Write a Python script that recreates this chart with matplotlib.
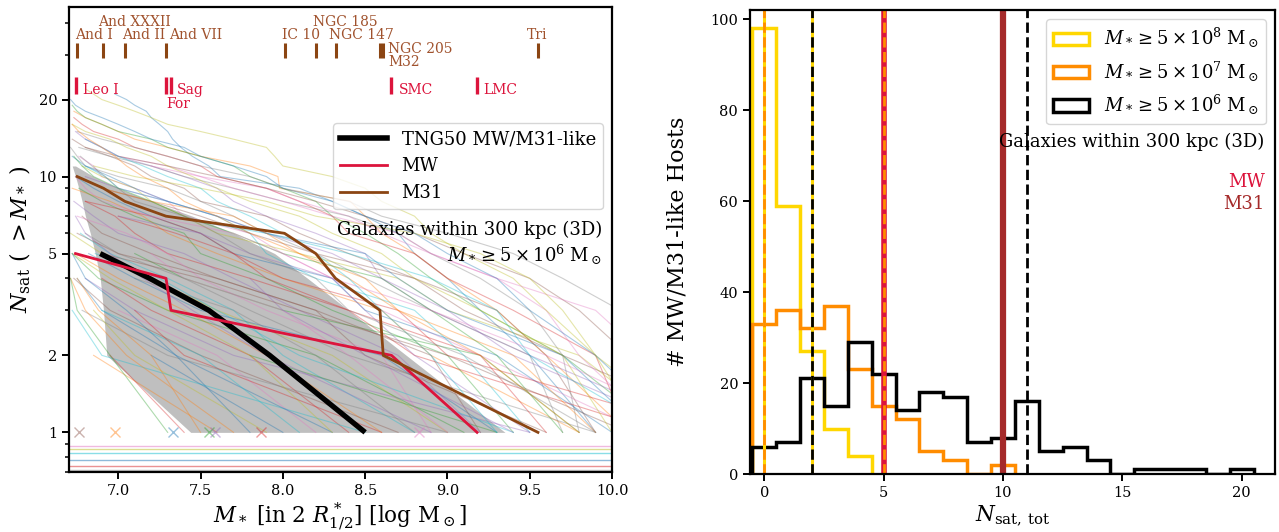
import matplotlib
matplotlib.use("Agg")
import matplotlib.pyplot as plt
import matplotlib.transforms as mtransforms
import numpy as np
from matplotlib.lines import Line2D
from matplotlib.patches import Patch
from matplotlib.ticker import FixedLocator, FixedFormatter, NullFormatter

plt.rcParams["font.family"] = "serif"
plt.rcParams["font.serif"] = ["DejaVu Serif"]
plt.rcParams["mathtext.fontset"] = "dejavuserif"

# ---- left panel: satellite stellar mass functions (log Msun, sorted descending)
mw_names = ["LMC", "SMC", "For", "Sag", "Leo I"]
mw_mass = [9.18, 8.66, 7.32, 7.29, 6.74]
m31_names = ["Tri", "M32", "NGC 205", "NGC 147", "NGC 185", "IC 10",
             "And VII", "And II", "And XXXII", "And I"]
m31_mass = [9.55, 8.61, 8.59, 8.32, 8.20, 8.01, 7.29, 7.04, 6.91, 6.75]

tng_median_n = [1, 2, 3, 4, 5]
tng_median_mass = [8.50, 7.92, 7.55, 7.19, 6.89]

band_n = [1, 2, 3, 4, 5, 6, 7, 8, 9, 10, 11]
band_mass_lo = [7.44, 6.93, 6.91, 6.89, 6.86, 6.83, 6.80, 6.78, 6.76, 6.74, 6.72]
band_mass_hi = [9.35, 8.75, 8.40, 8.15, 7.95, 7.70, 7.45, 7.20, 7.00, 6.85, 6.74]

hosts = [
    [9.9, 9.5, 9.2, 9.0, 8.8, 8.7, 8.5, 8.3, 8.1, 7.62, 7.55, 7.45, 7.38, 7.33,
     7.30, 7.25, 7.20, 7.17, 7.10, 7.05, 6.98],
    [10.1, 9.6, 9.3, 9.0, 8.8, 8.6, 8.5, 8.41, 7.98, 7.97, 7.8, 7.5, 7.3, 7.1,
     7.0, 6.9, 6.8, 6.73],
    [10.3, 9.7, 9.2, 8.9, 8.7, 8.5, 8.3, 8.2, 8.0, 7.8, 7.7, 7.5, 7.3, 7.2,
     7.0, 6.9, 6.8, 6.75, 6.72],
    [10.1, 9.9, 9.4, 9.0, 8.8, 8.4, 8.3, 8.1, 7.9, 7.6, 7.5, 7.3, 7.1, 7.0,
     6.85, 6.78, 6.73],
    [10.6, 9.5, 8.9, 8.6, 8.5, 8.2, 7.9, 7.7, 7.6, 7.4, 7.2, 7.0, 6.9, 6.8, 6.74],
    [9.9, 9.6, 9.3, 8.8, 8.4, 8.1, 7.9, 7.5, 7.4, 7.2, 7.1, 6.95, 6.8, 6.72],
    [10.2, 9.2, 8.6, 8.3, 8.0, 7.8, 7.4, 7.3, 7.1, 6.9, 6.85, 6.76],
    [9.7, 9.5, 8.9, 8.5, 8.2, 7.9, 7.7, 7.5, 7.3, 7.0, 6.8, 6.75, 6.71],
    [10.4, 9.8, 9.0, 8.7, 8.1, 7.6, 7.4, 7.2, 7.1, 6.9, 6.78],
    [9.5, 9.1, 8.8, 8.2, 7.9, 7.8, 7.6, 7.3, 7.0, 6.92, 6.8],
    [10.0, 9.3, 8.5, 8.3, 7.7, 7.5, 7.2, 7.0, 6.85, 6.74],
    [9.8, 8.9, 8.6, 8.0, 7.6, 7.3, 7.15, 6.95, 6.72],
    [9.4, 9.0, 8.3, 7.9, 7.5, 7.4, 7.1, 6.9, 6.76],
    [10.3, 8.8, 8.4, 7.8, 7.3, 7.1, 6.98, 6.8],
    [9.2, 8.7, 8.1, 7.7, 7.4, 7.0, 6.85, 6.73],
    [9.6, 8.5, 8.2, 7.6, 7.2, 6.9, 6.78],
    [8.9, 8.6, 7.9, 7.5, 7.3, 7.05, 6.75],
    [9.9, 8.4, 7.8, 7.4, 7.0, 6.8],
    [9.0, 8.3, 7.6, 7.2, 6.9, 6.71],
    [8.8, 8.0, 7.7, 7.3, 6.95, 6.77],
    [9.3, 8.6, 7.5, 7.1, 6.82],
    [8.6, 7.9, 7.4, 7.0, 6.74],
    [9.1, 8.2, 7.3, 6.88, 6.72],
    [8.4, 7.8, 7.2, 6.9],
    [9.5, 7.7, 7.1, 6.8],
    [8.7, 7.5, 6.95, 6.73],
    [8.2, 7.6, 7.0],
    [9.0, 7.3, 6.78],
    [7.9, 7.1, 6.85],
    [8.5, 6.9, 6.72],
    [8.0, 7.2],
    [7.6, 6.85],
    [9.3, 7.8],
    [7.4, 6.95],
    [10.5, 9.4, 9.0, 8.6, 8.3, 7.9, 7.6, 7.3, 7.0, 6.8],
    [10.8, 9.7, 9.1, 8.8, 8.2, 7.8, 7.5, 7.2, 6.9],
    [10.3, 9.8, 9.6, 9.3, 8.9, 8.6, 8.4, 8.1, 7.9, 7.5, 7.3, 7.0, 6.9, 6.8],
    [9.8, 9.7, 9.5, 9.2, 8.9, 8.7, 8.4, 8.0, 7.7, 7.4, 7.2, 6.95, 6.76],
    [10.2, 9.9, 9.6, 9.4, 9.1, 8.9, 8.8, 8.6, 8.5, 8.3, 8.0, 7.95, 7.9, 7.7,
     7.5, 7.3, 7.2, 7.1, 7.0, 6.9, 6.85, 6.8],
    [9.4, 8.1, 7.6, 7.25, 6.86],
    [8.3, 7.35, 6.9, 6.75],
    [7.7, 7.05, 6.8, 6.71],
    [9.8, 9.2, 8.0, 7.4, 7.1],
    [10.6, 9.0, 8.7, 8.0, 7.7, 7.35, 7.0],
    [8.9, 7.9, 7.45, 7.15, 6.95, 6.8, 6.74],
    [10.7, 10.1, 9.8, 9.5, 9.1, 8.8, 8.5, 8.2, 7.9, 7.6, 7.3, 7.0, 6.8],
    [10.4, 10.2, 9.9, 9.3, 8.9, 8.7, 8.3, 8.0, 7.7, 7.5, 7.2],
    [10.9, 10.3, 10.05, 9.7, 9.4, 9.0, 8.6, 8.4, 8.0, 7.8, 7.5, 7.3, 7.1,
     6.9, 6.75],
    [10.5, 9.9, 9.7, 9.5, 9.2, 8.8, 8.2, 7.9, 7.5, 7.1, 6.85],
    [10.3, 9.5, 9.3, 8.9, 8.4, 7.9, 7.3],
    [10.2, 9.7, 9.0, 8.7, 8.5, 7.9, 7.6, 7.3, 7.1, 6.95, 6.8, 6.72],
    [9.9, 9.4, 8.7, 8.4, 8.1, 7.9, 7.7, 7.2, 6.9, 6.75],
    [9.7, 9.3, 8.9, 8.6, 8.0, 7.7, 7.4, 7.2, 7.0, 6.85, 6.78, 6.73],
    [9.6, 9.2, 8.4, 7.9, 7.7, 7.5, 7.2, 6.8],
    [9.5, 8.8, 8.5, 8.3, 7.8, 7.5, 7.0],
    [9.2, 8.9, 8.2, 7.6, 7.0, 6.75],
    [9.0, 8.4, 8.0, 7.4, 7.2],
    [8.8, 8.2, 7.7, 7.1],
    [8.3, 7.8, 7.3, 6.95, 6.72],
    [8.1, 7.5, 6.9],
    [7.8, 7.35, 7.05, 6.8, 6.72],
    [7.5, 7.2, 6.88, 6.75],
    [7.3, 6.95, 6.75, 6.71],
    [8.6, 7.4, 7.1],
    [9.4, 8.5, 8.0, 7.8],
    [10.1, 9.0, 8.1, 7.5, 6.9],
    [10.6, 9.6, 8.9, 8.3, 8.0, 7.7, 7.2, 6.9, 6.8, 6.74],
    [9.9, 9.1, 8.4, 8.2, 7.8, 7.6, 7.4, 7.1, 7.0, 6.92, 6.84, 6.77],
    [10.0, 9.7, 9.2, 8.8, 8.6, 8.3, 8.1, 7.8, 7.6, 7.45, 7.3, 7.2, 7.05,
     6.95, 6.8, 6.72],
    [9.3, 8.9, 8.6, 8.4, 8.2, 8.0, 7.8, 7.6, 7.5, 7.3, 7.15, 7.0, 6.9, 6.8],
    [10.4, 9.9, 9.5, 9.3, 9.0, 8.8, 8.5, 8.3, 8.0, 7.9, 7.7, 7.5, 7.4, 7.2,
     7.1, 7.0, 6.9, 6.8, 6.74, 6.71],
    [9.8, 9.2, 8.7, 8.5, 8.1, 7.8, 7.6, 7.4, 7.3, 7.15, 7.05, 6.98, 6.9,
     6.82, 6.76, 6.72],
]
single_sat_mass = [6.76, 6.98, 7.33, 7.55, 7.59, 7.87, 8.83]
single_sat_color = ["tab:brown", "tab:orange", "tab:blue", "tab:green",
                    "tab:purple", "tab:red", "tab:pink"]
no_sat_level = [0.884, 0.858, 0.832, 0.780, 0.738, 0.712]
no_sat_color = ["tab:pink", "tab:olive", "tab:cyan", "tab:blue", "tab:red", "tab:gray"]

# ---- right panel: N_sat,tot histograms (bins centred on integers)
hist_5e8 = [98, 59, 27, 10, 4]
hist_5e7 = [33, 36, 32, 37, 23, 15, 12, 5, 3, 0, 2]
hist_5e6 = [6, 7, 21, 15, 29, 22, 14, 18, 17, 7, 8, 16, 5, 6, 3, 0, 1, 1, 1, 0, 1]

fig = plt.figure(figsize=(12.79, 5.32), dpi=100)
ax1 = fig.add_axes([0.0539, 0.1128, 0.4246, 0.874])
ax2 = fig.add_axes([0.5864, 0.1090, 0.4105, 0.8722])

for sp in list(ax1.spines.values()) + list(ax2.spines.values()):
    sp.set_linewidth(1.6)

# left panel
ax1.fill_betweenx(band_n, band_mass_lo, band_mass_hi, color="#bfbfbf", lw=0, zorder=1)
for h in hosts:
    ax1.plot(h, np.arange(1, len(h) + 1), lw=0.8, alpha=0.38, zorder=2)
for m, c in zip(single_sat_mass, single_sat_color):
    ax1.plot([m], [1], "x", color=c, ms=7, alpha=0.45, zorder=2)
for y, c in zip(no_sat_level, no_sat_color):
    ax1.axhline(y, color=c, lw=1.0, alpha=0.5, zorder=2)

ax1.plot(tng_median_mass, tng_median_n, color="black", lw=3.8, zorder=5,
         solid_capstyle="butt")
ax1.plot(mw_mass, np.arange(1, len(mw_mass) + 1), color="crimson", lw=2.0, zorder=5)
ax1.plot(m31_mass, np.arange(1, len(m31_mass) + 1), color="saddlebrown", lw=2.0, zorder=5)

ax1.set_yscale("log")
ax1.set_xlim(6.7, 10.0)
ax1.set_ylim(0.7, 46)
ax1.yaxis.set_major_locator(FixedLocator([1, 2, 5, 10, 20]))
ax1.yaxis.set_major_formatter(FixedFormatter(["1", "2", "5", "10", "20"]))
ax1.yaxis.set_minor_formatter(NullFormatter())
ax1.set_xticks([7.0, 7.5, 8.0, 8.5, 9.0, 9.5, 10.0])
ax1.tick_params(labelsize=10.5, width=1.4, length=5)
ax1.tick_params(which="minor", width=1.1, length=3)
ax1.set_xlabel(r"$M_*$ [in 2 $R^*_{1/2}$] [log M$_\odot$]", fontsize=15.5, labelpad=2)
ax1.set_ylabel(r"$N_{\rm sat}$ ( $> M_*$ )", fontsize=16)

# satellite name annotations
trans = mtransforms.blended_transform_factory(ax1.transData, ax1.transAxes)
for m in m31_mass:
    ax1.plot([m, m], [0.890, 0.923], color="saddlebrown", lw=2.2, transform=trans,
             solid_capstyle="butt", zorder=6)
for m in mw_mass:
    ax1.plot([m, m], [0.813, 0.849], color="crimson", lw=2.4, transform=trans,
             solid_capstyle="butt", zorder=6)

m31_label_pos = {
    "And I": (6.737, 0.940, "left"),
    "And XXXII": (6.875, 0.968, "left"),
    "And II": (7.02, 0.940, "left"),
    "And VII": (7.31, 0.940, "left"),
    "IC 10": (7.995, 0.940, "left"),
    "NGC 185": (8.185, 0.968, "left"),
    "NGC 147": (8.28, 0.940, "left"),
    "NGC 205": (8.64, 0.910, "left"),
    "M32": (8.64, 0.881, "left"),
    "Tri": (9.545, 0.940, "center"),
}
for name in m31_names:
    x, y, ha = m31_label_pos[name]
    ax1.text(x, y, name, transform=trans, color="sienna", fontsize=10,
             ha=ha, va="center", zorder=6)

mw_label_pos = {
    "LMC": (9.22, 0.822),
    "SMC": (8.705, 0.822),
    "Sag": (7.355, 0.822),
    "For": (7.29, 0.791),
    "Leo I": (6.785, 0.822),
}
for name in mw_names:
    x, y = mw_label_pos[name]
    ax1.text(x, y, name, transform=trans, color="crimson", fontsize=10,
             ha="left", va="center", zorder=6)

leg1 = ax1.legend(
    handles=[Line2D([], [], color="black", lw=4, label="TNG50 MW/M31-like"),
             Line2D([], [], color="crimson", lw=2, label="MW"),
             Line2D([], [], color="saddlebrown", lw=2, label="M31")],
    loc="upper right", bbox_to_anchor=(1.0, 0.77), fontsize=13, handlelength=2.6)
leg1.set_zorder(7)
ax1.text(0.982, 0.52, "Galaxies within 300 kpc (3D)", transform=ax1.transAxes,
         ha="right", va="center", fontsize=13, zorder=7)
ax1.text(0.982, 0.467, r"$M_* \geq 5 \times 10^6\ \mathrm{M}_\odot$",
         transform=ax1.transAxes, ha="right", va="center", fontsize=13, zorder=7)

# right panel
ax2.stairs(hist_5e8, np.arange(len(hist_5e8) + 1) - 0.5, baseline=0,
           color="gold", lw=2.5)
ax2.stairs(hist_5e7, np.arange(len(hist_5e7) + 1) - 0.5, baseline=0,
           color="darkorange", lw=2.5)
ax2.stairs(hist_5e6, np.arange(len(hist_5e6) + 1) - 0.5, baseline=0,
           color="black", lw=2.5)

ax2.axvline(0, color="gold", lw=2.2)
ax2.axvline(0, color="darkorange", lw=2.0, ls="--")
ax2.axvline(2, color="gold", lw=2.2)
ax2.axvline(2, color="black", lw=2.0, ls="--")
ax2.axvline(5, color="crimson", lw=4.0)
ax2.axvline(5, color="darkorange", lw=2.0, ls="--")
ax2.axvline(10, color="brown", lw=4.5)
ax2.axvline(11, color="black", lw=2.0, ls="--")

ax2.set_xlim(-0.6, 21.4)
ax2.set_ylim(0, 102)
ax2.set_xticks([0, 5, 10, 15, 20])
ax2.set_yticks([0, 20, 40, 60, 80, 100])
ax2.tick_params(labelsize=10.5, width=1.4, length=5)
ax2.set_xlabel(r"$N_{\rm sat,\,tot}$", fontsize=15.5, labelpad=2)
ax2.set_ylabel("# MW/M31-like Hosts", fontsize=16, labelpad=16)

ax2.legend(
    handles=[Patch(facecolor="none", edgecolor="gold", lw=2.5,
                   label=r"$M_* \geq 5 \times 10^8\ \mathrm{M}_\odot$"),
             Patch(facecolor="none", edgecolor="darkorange", lw=2.5,
                   label=r"$M_* \geq 5 \times 10^7\ \mathrm{M}_\odot$"),
             Patch(facecolor="none", edgecolor="black", lw=2.5,
                   label=r"$M_* \geq 5 \times 10^6\ \mathrm{M}_\odot$")],
    loc="upper right", fontsize=13)
ax2.text(0.98, 0.715, "Galaxies within 300 kpc (3D)", transform=ax2.transAxes,
         ha="right", va="center", fontsize=13)
ax2.text(0.98, 0.63, "MW", transform=ax2.transAxes, ha="right", va="center",
         fontsize=13, color="crimson")
ax2.text(0.98, 0.582, "M31", transform=ax2.transAxes, ha="right", va="center",
         fontsize=13, color="brown")

fig.savefig("out.png", dpi=100)
